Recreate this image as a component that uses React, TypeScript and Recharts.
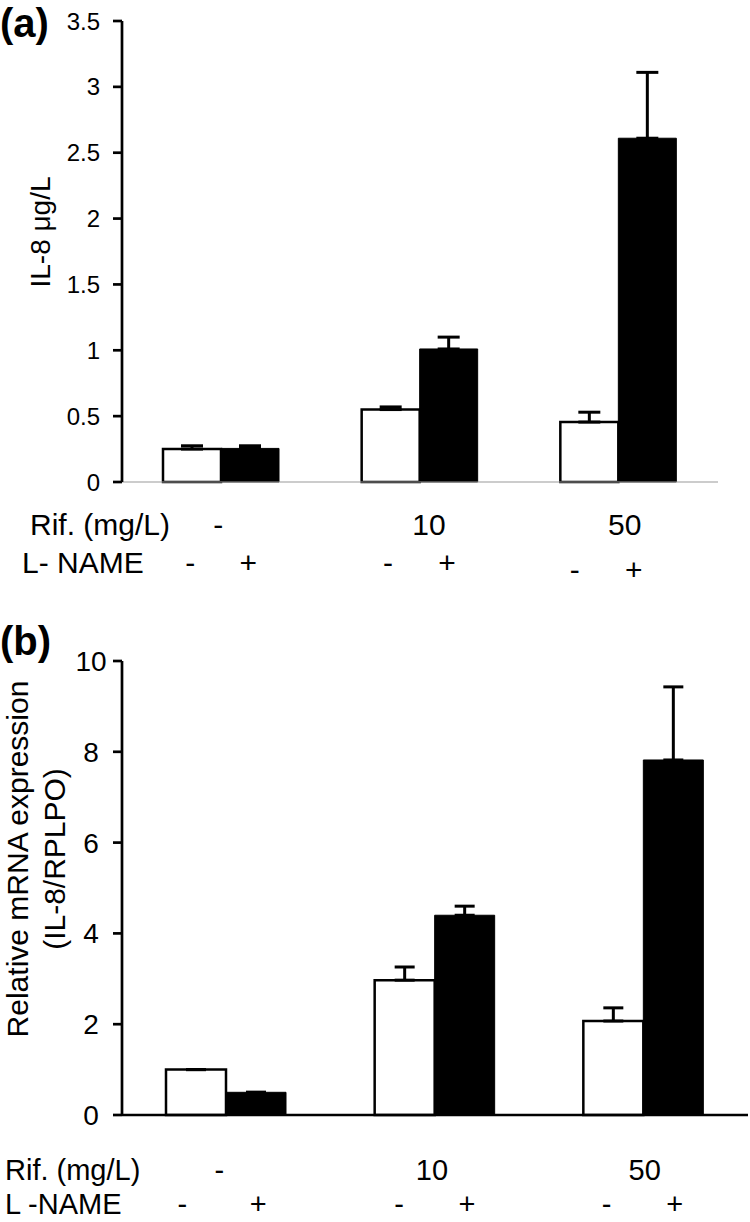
import React from 'react';
import { BarChart, Bar, XAxis, YAxis, ErrorBar } from 'recharts';

// ---- data ----
const rifLevels = ['-', '10', '50'];
const lNameMinus = ['-', '-', '-'];
const lNamePlus = ['+', '+', '+'];

// panel (a): IL-8 protein (µg/L)
const il8Control = [0.25, 0.55, 0.455];
const il8ControlErr = [0.025, 0.02, 0.075];
const il8LName = [0.255, 1.01, 2.61];
const il8LNameErr = [0.02, 0.09, 0.5];
const il8Ticks = [0, 0.5, 1, 1.5, 2, 2.5, 3, 3.5];

// panel (b): relative mRNA expression (IL-8/RPLPO)
const mrnaControl = [1.0, 2.97, 2.07];
const mrnaControlErr = [0, 0.29, 0.29];
const mrnaLName = [0.5, 4.4, 7.82];
const mrnaLNameErr = [0, 0.2, 1.61];
const mrnaTicks = [0, 2, 4, 6, 8, 10];

const FONT = '"Liberation Sans", Arial, Helvetica, sans-serif';

const dataA = rifLevels.map((r, i) => ({
  rif: r,
  ctrl: il8Control[i],
  ctrlErr: [0, il8ControlErr[i]],
  lname: il8LName[i],
  lnameErr: [0, il8LNameErr[i]],
}));

const dataB = rifLevels.map((r, i) => ({
  rif: r,
  ctrl: mrnaControl[i],
  ctrlErr: [0, mrnaControlErr[i]],
  lname: mrnaLName[i],
  lnameErr: [0, mrnaLNameErr[i]],
}));

type TickCfg = {
  rifY: number;
  nameY: number;
  fontSize: number;
  rifOff: number[];
  minusOff: number[];
  plusOff: number[];
  nameDy: number[];
};

const makeXTick = (cfg: TickCfg) => (props: any) => {
  const { x, payload } = props;
  const i = payload && payload.index != null ? payload.index : props.index;
  return (
    <g>
      <text x={x + cfg.rifOff[i]} y={cfg.rifY} textAnchor="middle" fontSize={cfg.fontSize} fontFamily={FONT} fill="#000">
        {rifLevels[i]}
      </text>
      <text x={x + cfg.minusOff[i]} y={cfg.nameY + cfg.nameDy[i]} textAnchor="middle" fontSize={cfg.fontSize} fontFamily={FONT} fill="#000">
        {lNameMinus[i]}
      </text>
      <text x={x + cfg.plusOff[i]} y={cfg.nameY + cfg.nameDy[i]} textAnchor="middle" fontSize={cfg.fontSize} fontFamily={FONT} fill="#000">
        {lNamePlus[i]}
      </text>
    </g>
  );
};

const tickA = makeXTick({
  rifY: 535,
  nameY: 573,
  fontSize: 30,
  rifOff: [-3, 9, 6],
  minusOff: [-31, -32, -44],
  plusOff: [27, 27, 15],
  nameDy: [0, 0, 7],
});

const tickB = makeXTick({
  rifY: 580,
  nameY: 614,
  fontSize: 29,
  rifOff: [-7, -3, 1],
  minusOff: [-44, -36, -37],
  plusOff: [32, 32, 31],
  nameDy: [0, 0, 0],
});

const YTickB = (props: any) => {
  const { x, y, payload } = props;
  return (
    <text x={x - 22} y={y} dy="0.355em" textAnchor="middle" fontSize={28} fontFamily={FONT} fill="#000">
      {payload.value}
    </text>
  );
};

export default function App() {
  return (
    <div style={{ position: 'absolute', left: 0, top: 0, width: 750, height: 1222, background: '#fff', overflow: 'hidden' }}>
      <div style={{ position: 'absolute', left: 0, top: 0 }}>
        <BarChart width={750} height={600} data={dataA} margin={{ top: 21, right: 32, bottom: 0, left: 0 }} barGap={0}>
          <XAxis
            dataKey="rif"
            interval={0}
            height={118}
            tickLine={false}
            axisLine={{ stroke: '#9a9a9a', strokeWidth: 1.2 }}
            tick={tickA}
          />
          <YAxis
            type="number"
            domain={[0, 3.5]}
            ticks={il8Ticks}
            interval={0}
            width={122}
            tickSize={9}
            tickMargin={13}
            axisLine={{ stroke: '#000', strokeWidth: 2.7 }}
            tickLine={{ stroke: '#000', strokeWidth: 2.7 }}
            tick={{ fontSize: 24, fill: '#000', fontFamily: FONT }}
          />
          <Bar dataKey="ctrl" fill="#fff" stroke="#000" strokeWidth={2.5} barSize={58} isAnimationActive={false}>
            <ErrorBar dataKey="ctrlErr" direction="y" width={11} stroke="#000" strokeWidth={3} />
          </Bar>
          <Bar dataKey="lname" fill="#000" stroke="#000" strokeWidth={1} barSize={58} isAnimationActive={false}>
            <ErrorBar dataKey="lnameErr" direction="y" width={11} stroke="#000" strokeWidth={3} />
          </Bar>
        </BarChart>
      </div>

      <div style={{ position: 'absolute', left: 0, top: 600 }}>
        <BarChart width={750} height={622} data={dataB} margin={{ top: 61, right: 2, bottom: 0, left: 0 }} barGap={0}>
          <XAxis
            dataKey="rif"
            interval={0}
            height={107}
            tickLine={false}
            axisLine={{ stroke: '#000', strokeWidth: 2.7 }}
            tick={tickB}
          />
          <YAxis
            type="number"
            domain={[0, 10]}
            ticks={mrnaTicks}
            interval={0}
            width={122}
            tickSize={9}
            tickMargin={0}
            axisLine={{ stroke: '#000', strokeWidth: 2.7 }}
            tickLine={{ stroke: '#000', strokeWidth: 2.7 }}
            tick={<YTickB />}
          />
          <Bar dataKey="ctrl" fill="#fff" stroke="#000" strokeWidth={2.5} barSize={60} isAnimationActive={false}>
            <ErrorBar dataKey="ctrlErr" direction="y" width={10} stroke="#000" strokeWidth={3} />
          </Bar>
          <Bar dataKey="lname" fill="#000" stroke="#000" strokeWidth={1} barSize={60} isAnimationActive={false}>
            <ErrorBar dataKey="lnameErr" direction="y" width={10} stroke="#000" strokeWidth={3} />
          </Bar>
        </BarChart>
      </div>

      <svg width={750} height={1222} style={{ position: 'absolute', left: 0, top: 0, pointerEvents: 'none' }}>
        <g fontFamily={FONT} fill="#000">
          <text x={0} y={37} fontSize={40} fontWeight="bold">(a)</text>
          <text x={0} y={655} fontSize={40} fontWeight="bold">(b)</text>
          <text x={50} y={232} fontSize={28} textAnchor="middle" transform="rotate(-90, 50, 232)">IL-8 μg/L</text>
          <text x={28} y={859} fontSize={30} textAnchor="middle" transform="rotate(-90, 28, 859)">Relative mRNA expression</text>
          <text x={65} y={859} fontSize={30} textAnchor="middle" transform="rotate(-90, 65, 859)">(IL-8/RPLPO)</text>
          <text x={30} y={535} fontSize={30}>Rif. (mg/L)</text>
          <text x={22} y={573} fontSize={30}>L- NAME</text>
          <text x={5} y={1180} fontSize={29}>Rif. (mg/L)</text>
          <text x={5} y={1214} fontSize={29}>L -NAME</text>
        </g>
      </svg>
    </div>
  );
}
